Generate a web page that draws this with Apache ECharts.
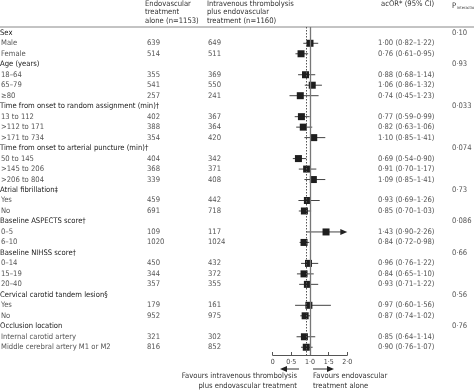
<!DOCTYPE html>
<html><head><meta charset="utf-8">
<script src="https://cdn.jsdelivr.net/npm/echarts@6/dist/echarts.min.js"></script>
<style>html,body{margin:0;padding:0;background:#fff}#c{width:474px;height:390px}</style>
</head><body><div id="c"></div>
<script>
// ---- data ----
const labels = ['Sex','Male','Female','Age (years)','18–64','65–79','≥80',
 'Time from onset to random assignment (min)†','13 to 112','>112 to 171','>171 to 734',
 'Time from onset to arterial puncture (min)†','50 to 145','>145 to 206','>206 to 804',
 'Atrial fibrillation‡','Yes','No','Baseline ASPECTS score†','0–5','6–10',
 'Baseline NIHSS score†','0–14','15–19','20–40','Cervical carotid tandem lesion§','Yes','No',
 'Occlusion location','Internal carotid artery','Middle cerebral artery M1 or M2'];
const isHeader = [1,0,0,1,0,0,0,1,0,0,0,1,0,0,0,1,0,0,1,0,0,1,0,0,0,1,0,0,1,0,0];
const nEndo = [null,639,514,null,355,541,257,null,402,388,354,null,404,368,339,null,459,691,null,109,1020,null,450,344,357,null,179,952,null,321,816];
const nIVT  = [null,649,511,null,369,550,241,null,367,364,420,null,342,371,408,null,442,718,null,117,1024,null,432,372,355,null,161,975,null,302,852];
const acOR  = [null,1.00,0.76,null,0.88,1.06,0.74,null,0.77,0.82,1.10,null,0.69,0.91,1.09,null,0.93,0.85,null,1.43,0.84,null,0.96,0.84,0.93,null,0.97,0.87,null,0.85,0.90];
const ciLo  = [null,0.82,0.61,null,0.68,0.86,0.45,null,0.59,0.63,0.85,null,0.54,0.70,0.85,null,0.69,0.70,null,0.90,0.72,null,0.76,0.65,0.71,null,0.60,0.74,null,0.64,0.76];
const ciHi  = [null,1.22,0.95,null,1.14,1.32,1.23,null,0.99,1.06,1.41,null,0.90,1.17,1.41,null,1.26,1.03,null,2.26,0.98,null,1.22,1.10,1.22,null,1.56,1.02,null,1.14,1.07];
const pInter = ['0·10',null,null,'0·93',null,null,null,'0·033',null,null,null,'0·074',null,null,null,'0·73',null,null,'0·086',null,null,'0·66',null,null,null,'0·56',null,null,'0·76',null,null];
const overallOR = 0.89;
const xTicks = [0, 0.5, 1.0, 1.5, 2.0];

// ---- layout ----
const FONT = "'Liberation Sans Narrow','DejaVu Sans Condensed','Liberation Sans',sans-serif";
const FS = 7.6;
const ROWS = labels.length;
const yMin = -0.554, yMax = ROWS - 1 + 0.74;
const fmt = v => v.toFixed(2).replace('.', '·');
const dotf = v => (v === 0 ? '0' : v.toFixed(1).replace('.', '·'));

const textData = labels.map((_, i) => [0, i]);
const forestData = [];
acOR.forEach((v, i) => { if (v != null) forestData.push([v, i, ciLo[i], ciHi[i]]); });

const chart = echarts.init(document.getElementById('c'), null, {renderer: 'canvas'});
const yAx = (gi) => ({type: 'value', gridIndex: gi, inverse: true, min: yMin, max: yMax, show: false});

chart.setOption({
  animation: false,
  grid: [
    {left: 0, top: 27, width: 474, height: 328},
    {left: 272.7, top: 27, width: 74.6, height: 328}
  ],
  xAxis: [
    {type: 'value', gridIndex: 0, min: 0, max: 474, show: false},
    {type: 'value', gridIndex: 1, min: 0, max: 2, interval: 0.5, position: 'bottom',
     axisLine: {show: true, onZero: false, lineStyle: {color: '#555', width: 1}},
     axisTick: {show: true, inside: true, length: 3, lineStyle: {color: '#555'}},
     splitLine: {show: false},
     axisLabel: {show: true, margin: 4, fontSize: 7, color: '#444', fontFamily: FONT, formatter: v => dotf(v)}}
  ],
  yAxis: [yAx(0), yAx(1)],
  series: [
    {
      type: 'custom', xAxisIndex: 0, yAxisIndex: 0, silent: true, clip: false,
      data: textData,
      renderItem: (params, api) => {
        const i = api.value(1);
        const y = api.coord([0, i])[1];
        const ch = [];
        const t = (x, s, col, align) => ch.push({type: 'text', style: {x: x, y: y, text: s, fill: col, font: FS + 'px ' + FONT, textAlign: align || 'left', textVerticalAlign: 'middle'}});
        if (isHeader[i]) t(0, labels[i], '#1a1a1a');
        else t(1, labels[i], '#555');
        if (nEndo[i] != null) t(147, String(nEndo[i]), '#555');
        if (nIVT[i] != null) t(208, String(nIVT[i]), '#555');
        if (acOR[i] != null) t(378, fmt(acOR[i]) + ' (' + fmt(ciLo[i]) + '–' + fmt(ciHi[i]) + ')', '#555');
        if (pInter[i] != null) t(452, pInter[i], '#555');
        return {type: 'group', children: ch};
      }
    },
    {
      type: 'custom', xAxisIndex: 1, yAxisIndex: 1, silent: true, clip: false,
      data: forestData,
      renderItem: (params, api) => {
        const or = api.value(0), i = api.value(1), lo = api.value(2), hi = api.value(3);
        const c = api.coord([or, i]);
        const pl = api.coord([lo, i]);
        const over = hi > 2;
        const ph = api.coord([over ? 2 : hi, i]);
        const ch = [];
        const endX = over ? ph[0] - 6 : ph[0];
        ch.push({type: 'line', shape: {x1: pl[0], y1: c[1], x2: endX, y2: c[1]}, style: {stroke: '#444', lineWidth: 1}});
        if (over) ch.push({type: 'polygon', shape: {points: [[ph[0], c[1]], [ph[0] - 7, c[1] - 3], [ph[0] - 7, c[1] + 3]]}, style: {fill: '#222'}});
        const s = 7;
        ch.push({type: 'rect', shape: {x: c[0] - s / 2, y: c[1] - s / 2, width: s, height: s}, style: {fill: '#1e1e1e'}});
        return {type: 'group', children: ch};
      },
      markLine: {
        silent: true, symbol: 'none', label: {show: false},
        data: [
          {xAxis: 1, lineStyle: {color: '#777', width: 1.3, type: 'solid'}},
          {xAxis: overallOR, lineStyle: {color: '#555', width: 1, type: [1.5, 1.5]}}
        ]
      }
    }
  ],
  graphic: [
    {type: 'line', shape: {x1: 0, y1: 27, x2: 474, y2: 27}, style: {stroke: '#888', lineWidth: 1}},
    {type: 'text', style: {x: 145, y: 4, text: 'Endovascular', font: FS + 'px ' + FONT, fill: '#333', textVerticalAlign: 'middle'}},
    {type: 'text', style: {x: 145, y: 12.5, text: 'treatment', font: FS + 'px ' + FONT, fill: '#333', textVerticalAlign: 'middle'}},
    {type: 'text', style: {x: 145, y: 21, text: 'alone (n=1153)', font: FS + 'px ' + FONT, fill: '#333', textVerticalAlign: 'middle'}},
    {type: 'text', style: {x: 207, y: 4, text: 'Intravenous thrombolysis', font: FS + 'px ' + FONT, fill: '#333', textVerticalAlign: 'middle'}},
    {type: 'text', style: {x: 207, y: 12.5, text: 'plus endovascular', font: FS + 'px ' + FONT, fill: '#333', textVerticalAlign: 'middle'}},
    {type: 'text', style: {x: 207, y: 21, text: 'treatment (n=1160)', font: FS + 'px ' + FONT, fill: '#333', textVerticalAlign: 'middle'}},
    {type: 'text', style: {x: 381, y: 4, text: 'acOR* (95% CI)', font: FS + 'px ' + FONT, fill: '#333', textVerticalAlign: 'middle'}},
    {type: 'text', style: {x: 452, y: 6, text: 'P', font: FS + 'px ' + FONT, fill: '#333', textVerticalAlign: 'middle'}},
    {type: 'text', style: {x: 457, y: 7.5, text: 'interaction', font: '4px ' + FONT, fill: '#333', textVerticalAlign: 'middle'}},
    // direction arrows
    {type: 'line', shape: {x1: 299, y1: 369, x2: 286, y2: 369}, style: {stroke: '#333', lineWidth: 1}},
    {type: 'polygon', shape: {points: [[280, 369], [287, 366], [287, 372]]}, style: {fill: '#222'}},
    {type: 'line', shape: {x1: 313, y1: 369, x2: 328, y2: 369}, style: {stroke: '#333', lineWidth: 1}},
    {type: 'polygon', shape: {points: [[334, 369], [327, 366], [327, 372]]}, style: {fill: '#222'}},
    {type: 'text', style: {x: 297, y: 376, text: 'Favours intravenous thrombolysis', font: FS + 'px ' + FONT, fill: '#333', textAlign: 'right', textVerticalAlign: 'middle'}},
    {type: 'text', style: {x: 297, y: 386, text: 'plus endovascular treatment', font: FS + 'px ' + FONT, fill: '#333', textAlign: 'right', textVerticalAlign: 'middle'}},
    {type: 'text', style: {x: 313, y: 376, text: 'Favours endovascular', font: FS + 'px ' + FONT, fill: '#333', textVerticalAlign: 'middle'}},
    {type: 'text', style: {x: 313, y: 386, text: 'treatment alone', font: FS + 'px ' + FONT, fill: '#333', textVerticalAlign: 'middle'}}
  ]
});
</script></body></html>
